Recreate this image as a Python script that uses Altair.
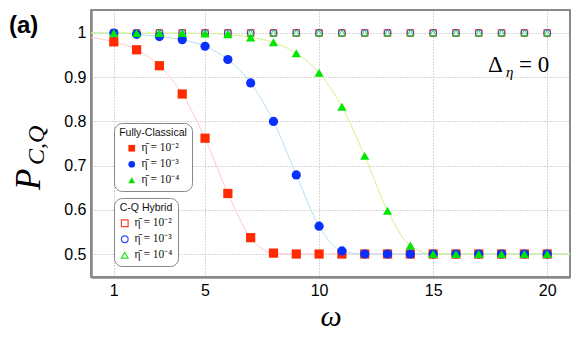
import altair as alt
import pandas as pd

# ---- data ----
omega = list(range(1, 21))
classical_e2 = [0.980, 0.962, 0.926, 0.862, 0.762, 0.637, 0.537, 0.502, 0.500, 0.500,
                0.500, 0.500, 0.500, 0.500, 0.500, 0.500, 0.500, 0.500, 0.500, 0.500]
classical_e3 = [1.000, 0.997, 0.992, 0.985, 0.970, 0.940, 0.887, 0.800, 0.679, 0.563,
                0.507, 0.500, 0.500, 0.500, 0.500, 0.500, 0.500, 0.500, 0.500, 0.500]
classical_e4 = [1.000, 1.000, 1.000, 1.000, 0.999, 0.997, 0.990, 0.979, 0.954, 0.910,
                0.833, 0.722, 0.598, 0.519, 0.500, 0.500, 0.500, 0.500, 0.500, 0.500]
hybrid_e2 = [1.0] * 20
hybrid_e3 = [1.0] * 20
hybrid_e4 = [1.0] * 20

# fitted curves: values at the plot edges (omega=0 and omega=21)
fit_left = [0.990, 1.000, 1.000]
fit_right = [0.500, 0.500, 0.500]

labels = ["η̄ = 10⁻²", "η̄ = 10⁻³", "η̄ = 10⁻⁴"]
hy_labels = [l + " " for l in labels]
marker_colors = ["#ff2a00", "#0a30ff", "#00e600"]
line_colors = ["#ffcaca", "#b6e2f4", "#d2f488"]
shapes = ["square", "circle", "triangle-up"]

# ---- tables ----
cls_rows, hy_rows, fit_rows = [], [], []
for lab, hlab, cvals, hvals, fl, fr in zip(
        labels, hy_labels, [classical_e2, classical_e3, classical_e4],
        [hybrid_e2, hybrid_e3, hybrid_e4], fit_left, fit_right):
    for w, c, h in zip(omega, cvals, hvals):
        cls_rows.append({"omega": w, "p": c, "series": lab})
        hy_rows.append({"omega": w, "p": h, "hseries": hlab})
    fit_rows.append({"omega": 0, "p": fl, "fseries": lab})
    for w, c in zip(omega, cvals):
        fit_rows.append({"omega": w, "p": c, "fseries": lab})
    fit_rows.append({"omega": 21, "p": fr, "fseries": lab})

cls_df = pd.DataFrame(cls_rows)
hy_df = pd.DataFrame(hy_rows)
fit_df = pd.DataFrame(fit_rows)

W, H = 479, 267

x_enc = alt.X("omega:Q", scale=alt.Scale(domain=[0, 21], nice=False),
              axis=alt.Axis(values=[1, 5, 10, 15, 20], title="ω",
                            titleFont="Liberation Serif", titleFontStyle="italic",
                            titleFontWeight="normal", titleFontSize=30,
                            titlePadding=3, titleColor="#000"))
y_enc = alt.Y("p:Q", scale=alt.Scale(domain=[0.448, 1.052], nice=False, zero=False),
              axis=alt.Axis(values=[0.5, 0.6, 0.7, 0.8, 0.9, 1.0], format="~g", title=None))

lines = alt.Chart(fit_df).mark_line(interpolate="monotone", strokeWidth=1).encode(
    x=x_enc, y=y_enc,
    color=alt.Color("fseries:N", scale=alt.Scale(domain=labels, range=line_colors), legend=None),
    detail="fseries:N",
)

legend_common = dict(orient="none", direction="vertical", titleFont="Liberation Sans",
                     titleFontSize=10.5, titleFontWeight="normal", titleColor="#111",
                     titleAnchor="middle", labelFont="Liberation Serif", labelFontSize=11.5,
                     labelColor="#111", strokeColor="#888", cornerRadius=8, padding=5,
                     fillColor="white", rowPadding=3, symbolSize=45, titlePadding=4)

hybrid = alt.Chart(hy_df).mark_point(filled=False, size=45, strokeWidth=1, opacity=0.85).encode(
    x=x_enc, y=y_enc,
    color=alt.Color("hseries:N", scale=alt.Scale(domain=hy_labels, range=marker_colors),
                    legend=alt.Legend(title="C-Q Hybrid", legendX=23, legendY=188,
                                      symbolStrokeWidth=1.2, **legend_common)),
    shape=alt.Shape("hseries:N", scale=alt.Scale(domain=hy_labels, range=shapes)),
)

classical = alt.Chart(cls_df).mark_point(filled=True, size=85, opacity=1).encode(
    x=x_enc, y=y_enc,
    color=alt.Color("series:N", scale=alt.Scale(domain=labels, range=marker_colors),
                    legend=alt.Legend(title="Fully-Classical", legendX=23, legendY=113,
                                      **legend_common)),
    shape=alt.Shape("series:N", scale=alt.Scale(domain=labels, range=shapes)),
)

one = alt.Data(values=[{"k": 1}])


def note(txt, x, y, size, font="Liberation Serif", style="normal", weight="normal",
         angle=0, align="left", baseline="alphabetic"):
    return alt.Chart(one).mark_text(text=txt, font=font, fontSize=size, fontStyle=style,
                                    fontWeight=weight, angle=angle, align=align,
                                    baseline=baseline, color="#000").encode(
        x=alt.value(x), y=alt.value(y))


notes = [
    note("(a)", -82, 23, 24, font="Liberation Sans", weight="bold"),
    note("P", -51, 180, 35, style="italic", angle=270),
    note("C,Q", -47, 155, 24, style="italic", angle=270),
    note("Δ", 397, 62, 23),
    note("η", 415, 67, 15, style="italic"),
    note("= 0", 428, 62, 23),
]

chart = alt.layer(lines, hybrid, classical, *notes).resolve_scale(
    color="independent", shape="independent"
).properties(
    width=W, height=H,
    autosize=alt.AutoSizeParams(type="none"),
    padding={"left": 83, "top": 2, "right": 3, "bottom": 58},
).configure_view(
    stroke="#666", strokeWidth=1.5
).configure_axis(
    grid=True, gridColor="#999", gridDash=[1, 2], gridWidth=0.8,
    domainColor="#888", domainWidth=2.5, ticks=False,
    labelFont="Liberation Sans", labelFontSize=16, labelColor="#000", labelPadding=5,
)

chart.save("out.html", embed_options={"renderer": "svg", "actions": False})
